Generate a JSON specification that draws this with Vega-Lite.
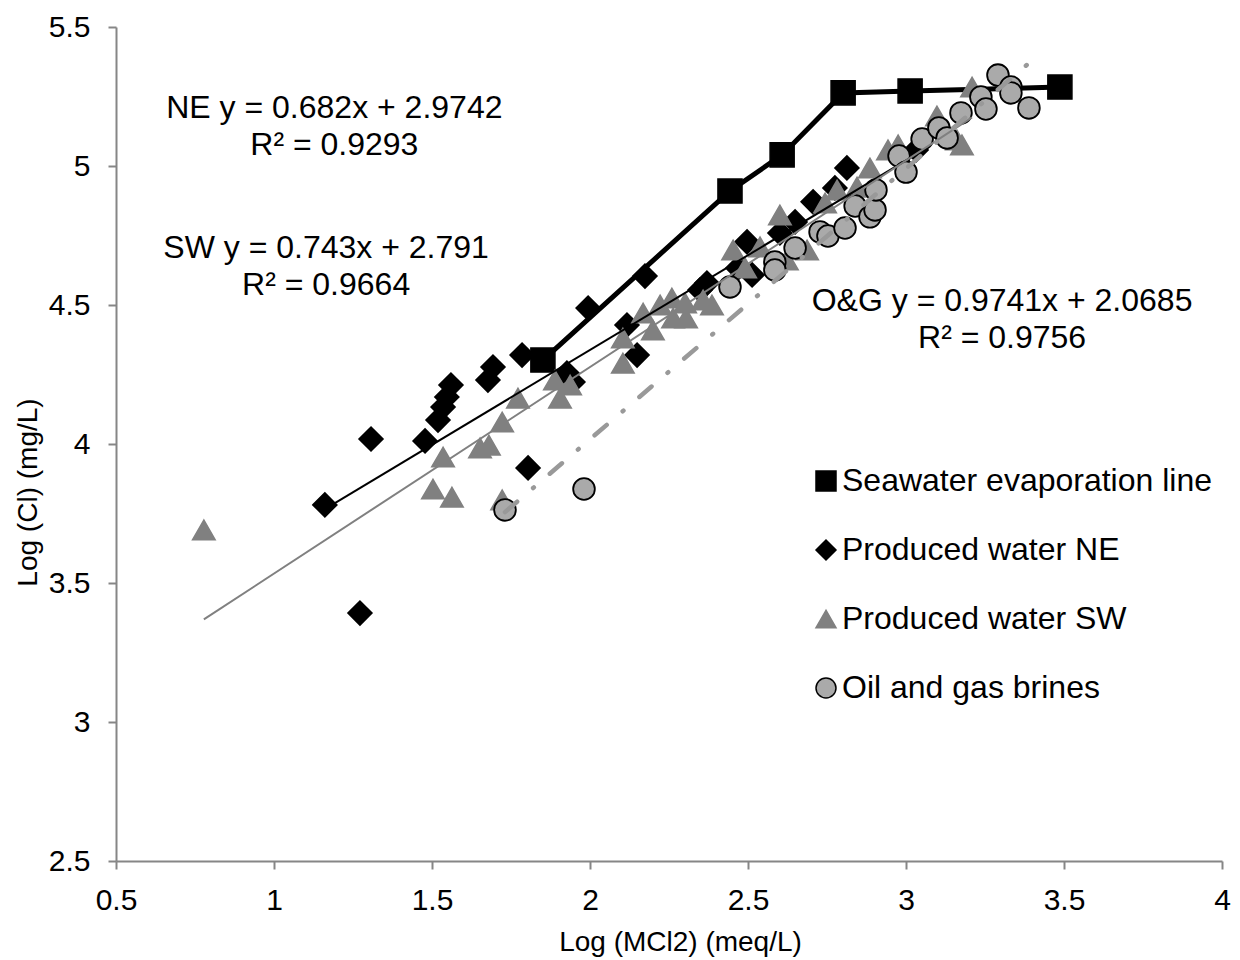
{
  "$schema": "https://vega.github.io/schema/vega-lite/v6.json",
  "width": 1106,
  "height": 834,
  "autosize": {"type": "none"},
  "padding": {"left": 116, "top": 27, "right": 18, "bottom": 99},
  "background": "white",
  "config": {
    "view": {"stroke": null},
    "font": "Liberation Sans",
    "axis": {
      "grid": false,
      "domainColor": "#868686",
      "domainWidth": 2,
      "tickColor": "#868686",
      "tickWidth": 2,
      "tickSize": 8,
      "labelFlush": false,
      "labelFont": "Liberation Sans",
      "labelFontSize": 30,
      "labelColor": "#000000",
      "titleFont": "Liberation Sans",
      "titleFontSize": 28,
      "titleFontWeight": "normal",
      "titleColor": "#000000"
    },
    "legend": {
      "padding": 0,
      "symbolSize": 400,
      "symbolStrokeWidth": 1.5,
      "labelFont": "Liberation Sans",
      "labelFontSize": 32,
      "labelColor": "#000000",
      "labelOffset": 0,
      "rowPadding": 37,
      "labelLimit": 600
    },
    "point": {"filled": true, "opacity": 1, "strokeWidth": 1.5}
  },
  "datasets": {
    "samples": [
      {"group": "Seawater evaporation line", "mcl2": 1.851, "cl": 4.302},
      {"group": "Seawater evaporation line", "mcl2": 2.443, "cl": 4.910},
      {"group": "Seawater evaporation line", "mcl2": 2.608, "cl": 5.040},
      {"group": "Seawater evaporation line", "mcl2": 2.801, "cl": 5.263},
      {"group": "Seawater evaporation line", "mcl2": 3.013, "cl": 5.270},
      {"group": "Seawater evaporation line", "mcl2": 3.487, "cl": 5.284},

      {"group": "Produced water NE", "mcl2": 1.161, "cl": 3.781},
      {"group": "Produced water NE", "mcl2": 1.272, "cl": 3.392},
      {"group": "Produced water NE", "mcl2": 1.307, "cl": 4.018},
      {"group": "Produced water NE", "mcl2": 1.478, "cl": 4.011},
      {"group": "Produced water NE", "mcl2": 1.519, "cl": 4.086},
      {"group": "Produced water NE", "mcl2": 1.535, "cl": 4.133},
      {"group": "Produced water NE", "mcl2": 1.547, "cl": 4.169},
      {"group": "Produced water NE", "mcl2": 1.560, "cl": 4.212},
      {"group": "Produced water NE", "mcl2": 1.677, "cl": 4.230},
      {"group": "Produced water NE", "mcl2": 1.693, "cl": 4.277},
      {"group": "Produced water NE", "mcl2": 1.785, "cl": 4.320},
      {"group": "Produced water NE", "mcl2": 1.804, "cl": 3.914},
      {"group": "Produced water NE", "mcl2": 1.927, "cl": 4.255},
      {"group": "Produced water NE", "mcl2": 1.946, "cl": 4.223},
      {"group": "Produced water NE", "mcl2": 1.994, "cl": 4.489},
      {"group": "Produced water NE", "mcl2": 2.117, "cl": 4.428},
      {"group": "Produced water NE", "mcl2": 2.149, "cl": 4.320},
      {"group": "Produced water NE", "mcl2": 2.174, "cl": 4.604},
      {"group": "Produced water NE", "mcl2": 2.348, "cl": 4.554},
      {"group": "Produced water NE", "mcl2": 2.370, "cl": 4.579},
      {"group": "Produced water NE", "mcl2": 2.468, "cl": 4.633},
      {"group": "Produced water NE", "mcl2": 2.497, "cl": 4.727},
      {"group": "Produced water NE", "mcl2": 2.513, "cl": 4.608},
      {"group": "Produced water NE", "mcl2": 2.601, "cl": 4.759},
      {"group": "Produced water NE", "mcl2": 2.649, "cl": 4.799},
      {"group": "Produced water NE", "mcl2": 2.706, "cl": 4.871},
      {"group": "Produced water NE", "mcl2": 2.775, "cl": 4.921},
      {"group": "Produced water NE", "mcl2": 2.813, "cl": 4.993},
      {"group": "Produced water NE", "mcl2": 3.032, "cl": 5.058},

      {"group": "Produced water SW", "mcl2": 0.778, "cl": 3.691},
      {"group": "Produced water SW", "mcl2": 1.503, "cl": 3.838},
      {"group": "Produced water SW", "mcl2": 1.535, "cl": 3.953},
      {"group": "Produced water SW", "mcl2": 1.563, "cl": 3.809},
      {"group": "Produced water SW", "mcl2": 1.652, "cl": 3.986},
      {"group": "Produced water SW", "mcl2": 1.680, "cl": 3.996},
      {"group": "Produced water SW", "mcl2": 1.722, "cl": 4.079},
      {"group": "Produced water SW", "mcl2": 1.722, "cl": 3.799},
      {"group": "Produced water SW", "mcl2": 1.772, "cl": 4.165},
      {"group": "Produced water SW", "mcl2": 1.889, "cl": 4.230},
      {"group": "Produced water SW", "mcl2": 1.905, "cl": 4.165},
      {"group": "Produced water SW", "mcl2": 1.937, "cl": 4.212},
      {"group": "Produced water SW", "mcl2": 2.104, "cl": 4.291},
      {"group": "Produced water SW", "mcl2": 2.104, "cl": 4.381},
      {"group": "Produced water SW", "mcl2": 2.168, "cl": 4.471},
      {"group": "Produced water SW", "mcl2": 2.199, "cl": 4.410},
      {"group": "Produced water SW", "mcl2": 2.222, "cl": 4.500},
      {"group": "Produced water SW", "mcl2": 2.259, "cl": 4.525},
      {"group": "Produced water SW", "mcl2": 2.263, "cl": 4.453},
      {"group": "Produced water SW", "mcl2": 2.301, "cl": 4.507},
      {"group": "Produced water SW", "mcl2": 2.304, "cl": 4.453},
      {"group": "Produced water SW", "mcl2": 2.358, "cl": 4.518},
      {"group": "Produced water SW", "mcl2": 2.386, "cl": 4.500},
      {"group": "Produced water SW", "mcl2": 2.453, "cl": 4.698},
      {"group": "Produced water SW", "mcl2": 2.491, "cl": 4.633},
      {"group": "Produced water SW", "mcl2": 2.538, "cl": 4.709},
      {"group": "Produced water SW", "mcl2": 2.601, "cl": 4.824},
      {"group": "Produced water SW", "mcl2": 2.623, "cl": 4.662},
      {"group": "Produced water SW", "mcl2": 2.687, "cl": 4.698},
      {"group": "Produced water SW", "mcl2": 2.744, "cl": 4.867},
      {"group": "Produced water SW", "mcl2": 2.782, "cl": 4.914},
      {"group": "Produced water SW", "mcl2": 2.845, "cl": 4.924},
      {"group": "Produced water SW", "mcl2": 2.886, "cl": 4.993},
      {"group": "Produced water SW", "mcl2": 2.943, "cl": 5.058},
      {"group": "Produced water SW", "mcl2": 2.975, "cl": 5.076},
      {"group": "Produced water SW", "mcl2": 3.098, "cl": 5.180},
      {"group": "Produced water SW", "mcl2": 3.161, "cl": 5.094},
      {"group": "Produced water SW", "mcl2": 3.177, "cl": 5.076},
      {"group": "Produced water SW", "mcl2": 3.209, "cl": 5.284},

      {"group": "Oil and gas brines", "mcl2": 1.731, "cl": 3.763},
      {"group": "Oil and gas brines", "mcl2": 1.981, "cl": 3.838},
      {"group": "Oil and gas brines", "mcl2": 2.443, "cl": 4.565},
      {"group": "Oil and gas brines", "mcl2": 2.585, "cl": 4.655},
      {"group": "Oil and gas brines", "mcl2": 2.585, "cl": 4.626},
      {"group": "Oil and gas brines", "mcl2": 2.649, "cl": 4.705},
      {"group": "Oil and gas brines", "mcl2": 2.728, "cl": 4.763},
      {"group": "Oil and gas brines", "mcl2": 2.753, "cl": 4.748},
      {"group": "Oil and gas brines", "mcl2": 2.807, "cl": 4.777},
      {"group": "Oil and gas brines", "mcl2": 2.839, "cl": 4.856},
      {"group": "Oil and gas brines", "mcl2": 2.886, "cl": 4.817},
      {"group": "Oil and gas brines", "mcl2": 2.902, "cl": 4.842},
      {"group": "Oil and gas brines", "mcl2": 2.905, "cl": 4.914},
      {"group": "Oil and gas brines", "mcl2": 2.978, "cl": 5.036},
      {"group": "Oil and gas brines", "mcl2": 3.000, "cl": 4.978},
      {"group": "Oil and gas brines", "mcl2": 3.051, "cl": 5.097},
      {"group": "Oil and gas brines", "mcl2": 3.104, "cl": 5.137},
      {"group": "Oil and gas brines", "mcl2": 3.130, "cl": 5.101},
      {"group": "Oil and gas brines", "mcl2": 3.174, "cl": 5.191},
      {"group": "Oil and gas brines", "mcl2": 3.237, "cl": 5.248},
      {"group": "Oil and gas brines", "mcl2": 3.253, "cl": 5.205},
      {"group": "Oil and gas brines", "mcl2": 3.291, "cl": 5.327},
      {"group": "Oil and gas brines", "mcl2": 3.332, "cl": 5.284},
      {"group": "Oil and gas brines", "mcl2": 3.332, "cl": 5.263},
      {"group": "Oil and gas brines", "mcl2": 3.389, "cl": 5.209}
    ],
    "fits": [
      {"fit": "NE", "mcl2": 1.161, "cl": 3.766},
      {"fit": "NE", "mcl2": 3.032, "cl": 5.042},
      {"fit": "SW", "mcl2": 0.778, "cl": 3.369},
      {"fit": "SW", "mcl2": 3.209, "cl": 5.175},
      {"fit": "OG", "mcl2": 1.731, "cl": 3.755},
      {"fit": "OG", "mcl2": 3.389, "cl": 5.370}
    ]
  },
  "layer": [
    {
      "data": {"name": "samples"},
      "transform": [{"filter": "datum.group === 'Seawater evaporation line'"}],
      "mark": {"type": "line", "color": "#000000", "strokeWidth": 5, "strokeJoin": "miter"},
      "encoding": {
        "x": {
          "field": "mcl2",
          "type": "quantitative",
          "title": "Log (MCl2) (meq/L)",
          "scale": {"domain": [0.5, 4], "nice": false, "zero": false},
          "axis": {
            "values": [0.5, 1, 1.5, 2, 2.5, 3, 3.5, 4],
            "format": ".1~f",
            "labelPadding": 16,
            "titleX": 564,
            "titleY": 81,
            "titleBaseline": "middle"
          }
        },
        "y": {
          "field": "cl",
          "type": "quantitative",
          "title": "Log (Cl) (mg/L)",
          "scale": {"domain": [2.5, 5.5], "nice": false, "zero": false},
          "axis": {
            "values": [2.5, 3, 3.5, 4, 4.5, 5, 5.5],
            "format": ".1~f",
            "labelPadding": 18,
            "titleX": -88,
            "titleY": 465,
            "titleBaseline": "middle"
          }
        },
        "order": {"field": "mcl2"}
      }
    },
    {
      "data": {"name": "samples"},
      "layer": [
        {
          "transform": [{"filter": "datum.group === 'Seawater evaporation line'"}],
          "mark": {"type": "point", "size": 580}
        },
        {
          "transform": [{"filter": "datum.group === 'Produced water NE'"}],
          "mark": {"type": "point", "size": 580}
        },
        {
          "transform": [{"filter": "datum.group === 'Produced water SW'"}],
          "mark": {"type": "point", "size": 510}
        },
        {
          "transform": [{"filter": "datum.group === 'Oil and gas brines'"}],
          "mark": {"type": "point", "size": 470, "strokeWidth": 1.8}
        }
      ],
      "encoding": {
        "x": {"field": "mcl2", "type": "quantitative"},
        "y": {"field": "cl", "type": "quantitative"},
        "shape": {
          "field": "group",
          "type": "nominal",
          "scale": {
            "domain": ["Seawater evaporation line", "Produced water NE", "Produced water SW", "Oil and gas brines"],
            "range": ["square", "diamond", "triangle-up", "circle"]
          },
          "legend": {"title": null, "orient": "none", "legendX": 694, "legendY": 438}
        },
        "fill": {
          "field": "group",
          "type": "nominal",
          "scale": {
            "domain": ["Seawater evaporation line", "Produced water NE", "Produced water SW", "Oil and gas brines"],
            "range": ["#000000", "#000000", "#808080", "#AAAAAA"]
          },
          "legend": {"title": null, "orient": "none", "legendX": 694, "legendY": 438}
        },
        "stroke": {
          "field": "group",
          "type": "nominal",
          "scale": {
            "domain": ["Seawater evaporation line", "Produced water NE", "Produced water SW", "Oil and gas brines"],
            "range": ["#000000", "#000000", "#808080", "#000000"]
          },
          "legend": {"title": null, "orient": "none", "legendX": 694, "legendY": 438}
        }
      }
    },
    {
      "data": {"name": "fits"},
      "transform": [{"filter": "datum.fit === 'NE'"}],
      "mark": {"type": "line", "color": "#000000", "strokeWidth": 2},
      "encoding": {
        "x": {"field": "mcl2", "type": "quantitative"},
        "y": {"field": "cl", "type": "quantitative"}
      }
    },
    {
      "data": {"name": "fits"},
      "transform": [{"filter": "datum.fit === 'SW'"}],
      "mark": {"type": "line", "color": "#808080", "strokeWidth": 2},
      "encoding": {
        "x": {"field": "mcl2", "type": "quantitative"},
        "y": {"field": "cl", "type": "quantitative"}
      }
    },
    {
      "data": {"name": "fits"},
      "transform": [{"filter": "datum.fit === 'OG'"}],
      "mark": {"type": "line", "color": "#999999", "strokeWidth": 4.5, "strokeCap": "round", "strokeDash": [16, 21, 1, 21]},
      "encoding": {
        "x": {"field": "mcl2", "type": "quantitative"},
        "y": {"field": "cl", "type": "quantitative"}
      }
    },
    {
      "data": {"values": [{}]},
      "mark": {"type": "text", "font": "Liberation Sans", "fontSize": 32, "align": "center", "baseline": "middle", "lineHeight": 37, "color": "#000000"},
      "encoding": {
        "x": {"datum": 1.191},
        "y": {"datum": 5.208},
        "text": {"value": ["NE y = 0.682x + 2.9742", "R² = 0.9293"]}
      }
    },
    {
      "data": {"values": [{}]},
      "mark": {"type": "text", "font": "Liberation Sans", "fontSize": 32, "align": "center", "baseline": "middle", "lineHeight": 37, "color": "#000000"},
      "encoding": {
        "x": {"datum": 1.165},
        "y": {"datum": 4.704},
        "text": {"value": ["SW y = 0.743x + 2.791", "R² = 0.9664"]}
      }
    },
    {
      "data": {"values": [{}]},
      "mark": {"type": "text", "font": "Liberation Sans", "fontSize": 32, "align": "center", "baseline": "middle", "lineHeight": 37, "color": "#000000"},
      "encoding": {
        "x": {"datum": 3.304},
        "y": {"datum": 4.515},
        "text": {"value": ["O&G y = 0.9741x + 2.0685", "R² = 0.9756"]}
      }
    }
  ]
}
